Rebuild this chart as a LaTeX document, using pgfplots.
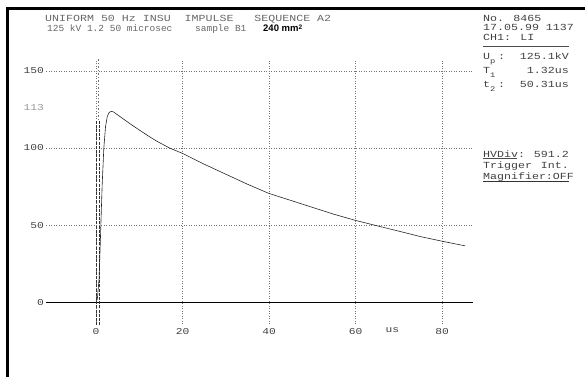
\documentclass[border=0pt]{standalone}
\usepackage{fontspec}
\usepackage{pgfplots}
\pgfplotsset{compat=1.18}
\newfontfamily\dm[FakeStretch=1.25]{Liberation Mono}
\newfontfamily\dmn[FakeStretch=1.02]{Liberation Mono}
\newfontfamily\lsans{Liberation Sans}
\begin{document}
\begin{tikzpicture}[tx/.style={font=\dm\fontsize{9.3}{10}\selectfont, text=black!75, inner sep=0pt, anchor=west, text height=6pt, text depth=0pt}]
\path[use as bounding box] (0,0) rectangle (585pt,-377pt);
\draw[line width=3pt] (7pt,-377pt) -- (7pt,-8.5pt) -- (585pt,-8.5pt);
% header
\node[tx, text=black!60] at (45pt,-18.5pt) {UNIFORM 50 Hz INSU~~IMPULSE~~~SEQUENCE A2};
\node[tx, text=black!60, font=\dmn\fontsize{9.3}{10}\selectfont] at (47pt,-28.5pt) {125 kV 1.2 50 microsec};
\node[tx, text=black!60, font=\dmn\fontsize{9.3}{10}\selectfont] at (195pt,-28.5pt) {sample B1};
\node[anchor=base west, inner sep=0pt, font=\lsans\bfseries\fontsize{9.5}{10}\selectfont] at (263pt,-32pt) {240 mm\raisebox{2.5pt}{\fontsize{6.5}{6.5}\selectfont 2}};
% right panel
\node[tx] at (483pt,-19pt) {No. 8465};
\node[tx] at (483pt,-28pt) {17.05.99 1137};
\node[tx] at (483pt,-38pt) {CH1: LI};
\draw[black!70, line width=0.8pt] (483pt,-46pt) -- (569pt,-46pt);
\node[tx] at (483pt,-57pt) {U\raisebox{-4pt}{\fontsize{7}{7}\selectfont p}};
\node[tx] at (498pt,-57pt) {:};
\node[tx, anchor=east] at (569pt,-57pt) {125.1kV};
\node[tx] at (483pt,-71pt) {T\raisebox{-4pt}{\fontsize{7}{7}\selectfont 1}};
\node[tx, anchor=east] at (569pt,-71pt) {1.32us};
\node[tx] at (483pt,-85pt) {t\raisebox{-4pt}{\fontsize{7}{7}\selectfont 2}};
\node[tx] at (498pt,-85pt) {:};
\node[tx, anchor=east] at (569pt,-85pt) {50.31us};
\node[tx] at (483pt,-154pt) {HVDiv:};
\draw[black!70, line width=0.5pt] (483pt,-158pt) -- (517pt,-158pt);
\node[tx, anchor=east] at (569pt,-154pt) {591.2};
\node[tx] at (483pt,-165pt) {Trigger};
\node[tx, anchor=east] at (569pt,-165pt) {Int.};
\node[tx] at (483pt,-176pt) {Magnifier:OFF};
\draw[black!80, line width=0.8pt] (483pt,-181pt) -- (569pt,-181pt);
\begin{axis}[
  at={(46.3pt,-323.6pt)}, anchor=south west,
  scale only axis, width=426.9pt, height=264.9pt,
  xmin=-11.5, xmax=87.2, ymin=-14, ymax=158,
  clip=false,
  axis line style={draw=none},
  tick style={draw=none},
  xtick={0,20,40,60,80}, ytick={0,50,100,150},
  extra x ticks={68.5}, extra x tick labels={us}, extra x tick style={grid=none},
  extra y ticks={126}, extra y tick labels={113}, extra y tick style={grid=none, yticklabel style={text=black!40}},
  grid=major, grid style={dash pattern=on 0.5pt off 2pt, black!55, line width=0.5pt},
  /pgf/number format/assume math mode=true,
  ticklabel style={font=\dm\fontsize{9}{9}\selectfont, text=black!75},
  xticklabel style={yshift=-1pt},
  yticklabel style={xshift=1pt},
]
\addplot[black, line width=1pt] coordinates {(-11.5,0) (87.2,0)};
\addplot[black!55, line width=0.6pt, dash pattern=on 1.5pt off 2pt] coordinates {(0.45,118) (0.45,158)};
\addplot[black!80, line width=0.6pt, dash pattern=on 3pt off 1.2pt] coordinates {(0.1,-15) (0.1,118)};
\addplot[black!80, line width=0.6pt, dash pattern=on 3pt off 1.2pt] coordinates {(0.8,-15) (0.8,118)};
\addplot[black!85, line width=0.6pt] coordinates {
(0.0,0) (0.3,2) (0.7,15) (1.0,40) (1.4,75) (1.8,100) (2.2,114) (2.6,120.5) (3.0,123) (3.5,123.8) (4,123.5) (5,121.5) (6,119.5) (8,115.5) (10,111.7) (12,108) (14,104.5) (17,100) (20,96.5) (25,89.5) (30,83) (35,76.5) (40,70.5) (45,66) (50,61.5) (55,57) (60,53) (65,49.5) (70,46) (75,42.5) (80,39.5) (85.3,36.5)
};
\end{axis}
\end{tikzpicture}
\end{document}
